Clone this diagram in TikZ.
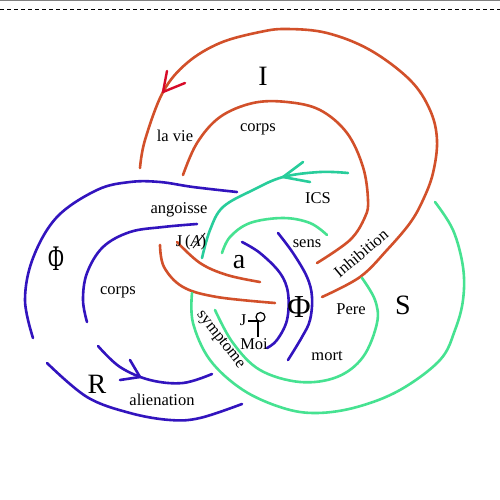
\documentclass[tikz,border=0pt]{standalone}
\usepackage{fontspec}
\setmainfont{Liberation Serif}
\usetikzlibrary{calc}
\definecolor{corange}{RGB}{210,80,42}
\definecolor{cblue}{RGB}{50,20,190}
\definecolor{cgreen}{RGB}{70,226,145}
\definecolor{cteal}{RGB}{40,205,155}
\definecolor{cred}{RGB}{215,10,40}
\begin{document}
\begin{tikzpicture}[x=1pt,y=-1pt,
  ring/.style={line width=2.6pt,line cap=round,line join=round},
  orng/.style={ring,draw=corange},
  blu/.style={ring,draw=cblue},
  grn/.style={ring,draw=cgreen},
  tea/.style={ring,draw=cteal},
  lbl/.style={font=\fontsize{16.5}{18}\selectfont,inner sep=0pt},
  big/.style={font=\fontsize{28}{30}\selectfont,inner sep=0pt},
  glyph/.style={black,line width=1pt}]
\useasboundingbox (0,0) rectangle (500,500);
\fill[white] (0,0) rectangle (500,500);
\draw[gray,line width=2pt] (0,0.5) -- (500,0.5);
\draw[black,line width=0.8pt,dash pattern=on 4pt off 3pt] (0,9) -- (500,9);
% orange (I)
\draw[orng] plot[smooth,tension=0.6] coordinates {(140,168) (145,140) (163,92) (187,63) (220,43) (260,32) (287,29) (327,33) (370,50) (410,80) (430,110) (437,140) (433,173) (423,200) (410,223) (387,250) (360,277) (322,297)};
\draw[orng] plot[smooth,tension=0.6] coordinates {(183,175) (197,143) (220,117) (253,103) (287,102) (320,110) (347,133) (363,167) (368,200) (365,217) (350,240) (317,263)};
\draw[orng] plot[smooth,tension=0.6] coordinates {(160,245) (164,267) (183,287) (217,297) (275,303)};
\draw[orng] plot[smooth,tension=0.6] coordinates {(177,242) (200,263) (227,275) (260,282)};
\draw[cred,line width=2.4pt,line cap=round,line join=round] (167,71) -- (163,92) -- (185,83);
% blue (R)
\draw[blu] plot[smooth,tension=0.6] coordinates {(237,192) (193,187) (160,182) (130,182) (97,190) (57,217) (33,258) (25,300) (33,338)};
\draw[blu] plot[smooth,tension=0.6] coordinates {(47,363) (87,397) (130,413) (170,420) (200,418) (242,404)};
\draw[blu] plot[smooth,tension=0.6] coordinates {(197,224) (163,227) (130,232) (103,247) (87,273) (83,300) (87,322)};
\draw[blu] plot[smooth,tension=0.6] coordinates {(98,346) (120,367) (150,380) (183,383) (212,374)};
\draw[blu] (130,360) -- (140,377) -- (120,380);
\draw[blu] plot[smooth,tension=0.6] coordinates {(242,242) (260,253) (280,273) (288,293) (287,320) (277,340) (267,348)};
\draw[blu] plot[smooth,tension=0.6] coordinates {(278,233) (293,253) (307,277) (312,297) (310,320) (302,337) (288,360)};
% green (S)
\draw[tea] plot[smooth,tension=0.6] coordinates {(348,173) (320,172) (283,177) (253,190) (223,207) (210,230) (202,258)};
\draw[tea] (303,162) -- (283,177) -- (310,182);
\draw[grn] plot[smooth,tension=0.6] coordinates {(222,253) (230,237) (250,223) (283,218) (310,223) (327,235)};
\draw[grn] plot[smooth,tension=0.6] coordinates {(362,278) (375,300) (377,323) (363,357) (337,377) (300,382) (260,370) (233,343) (215,310)};
\draw[grn] plot[smooth,tension=0.6] coordinates {(435,202) (453,230) (463,267) (463,300) (455,330) (440,360) (400,390) (357,407) (317,413) (283,408) (243,390) (210,360) (193,323) (192,293)};
% labels
\node[big] (tI) at (263,76) {I};
\node[big] (tS) at (403,305) {S};
\node[big] (tR) at (97,384) {R};
\node[big] (ta) at (239,262) {a};
\node[lbl] (lavie) at (175,136) {la vie};
\node[lbl] (corpsI) at (258,129) {corps};
\node[lbl] (ics) at (318,198) {ICS};
\node[lbl] (ang) at (179,210) {angoisse};
\node[lbl] (sens) at (307,244) {sens};
\node[lbl,rotate=40] (inh) at (361,253) {Inhibition};
\node[lbl] (pere) at (351,309) {Pere};
\node[lbl] (mort) at (327,356) {mort};
\node[lbl] (moi) at (254,344) {Moi};
\node[lbl,rotate=-52] (sympt) at (220,340) {symptome};
\node[lbl] (corpsR) at (118,292) {corps};
\node[lbl] (alien) at (162,400) {alienation};
\node[lbl] (jA) at (191,243) {J\,(\textit{A})};
\draw[glyph,line width=0.8pt] ($(jA.center)+(2,5)$) -- ++(12,-15);
\node[font=\fontsize{36}{38}\selectfont,inner sep=0pt,xscale=0.6] (phiL) at (56,259) {Φ};
\node[font=\fontsize{32}{34}\selectfont,inner sep=0pt] (phiC) at (299,307) {Φ};
\node[lbl] (jrho) at (243,320) {J};
\draw[glyph,line width=1.2pt] (248,321) -- (258,321);
\draw[glyph,line width=1.2pt] (260.5,317) circle (4.5);
\draw[glyph,line width=1.2pt] (258,321) -- (258,337);
\end{tikzpicture}
\end{document}
